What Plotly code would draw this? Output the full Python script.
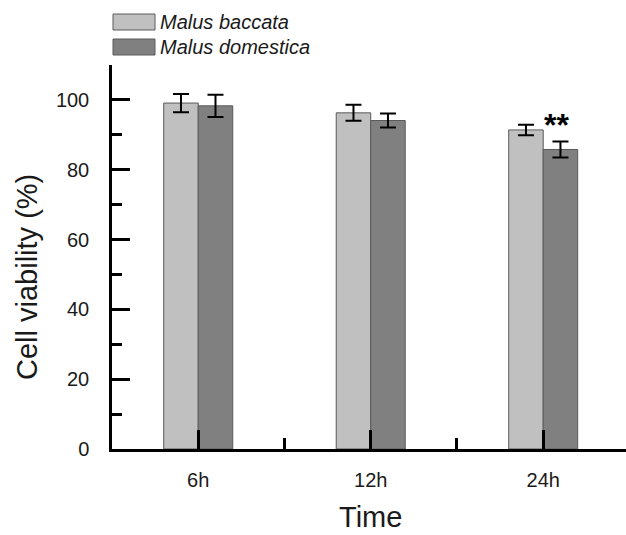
import plotly.graph_objects as go

categories = ["6h", "12h", "24h"]
series_names = ["Malus baccata", "Malus domestica"]
baccata = [99.1, 96.3, 91.4]
baccata_err = [2.6, 2.3, 1.5]
domestica = [98.3, 94.1, 85.8]
domestica_err = [3.2, 2.0, 2.3]
y_ticks = [0, 20, 40, 60, 80, 100]
y_minor = [10, 30, 50, 70, 90, 110]
x_minor = [0.5, 1.5]
sig_label = "**"

colors = ["#c0c0c0", "#808080"]
FONT = "Arial, Liberation Sans, sans-serif"

W, H = 626, 535
L, R, T, B = 112, 0, 65, 86
pw, ph = W - L - R, H - T - B

def px_x(x):
    return (x - L) / pw

def px_y(y):
    return (H - B - y) / ph

xs = list(range(len(categories)))
fig = go.Figure()
for name, vals, errs, col in [(series_names[0], baccata, baccata_err, colors[0]),
                              (series_names[1], domestica, domestica_err, colors[1])]:
    fig.add_trace(go.Bar(
        x=xs, y=vals, name=name,
        marker=dict(color=col, line=dict(color="#5a5a5a", width=1)),
        error_y=dict(type="data", array=errs, visible=True, color="black", thickness=2, width=8),
        showlegend=False,
    ))

fig.update_layout(
    width=W, height=H,
    margin=dict(l=L, r=R, t=T, b=B),
    paper_bgcolor="white", plot_bgcolor="white",
    barmode="group", bargap=0.6, bargroupgap=0,
    font=dict(family=FONT, color="#1a1a1a"),
)
fig.update_xaxes(
    range=[-0.5, 2.48], tickvals=xs, ticktext=categories,
    ticks="inside", ticklen=19, tickwidth=2.5, tickcolor="black",
    showline=True, linewidth=2.5, linecolor="black",
    showgrid=False, zeroline=False,
    tickfont=dict(size=20, family=FONT, color="#1a1a1a"),
    ticklabelstandoff=11,
    minor=dict(tickvals=x_minor, ticks="inside", ticklen=11, tickwidth=2.5, tickcolor="black", showgrid=False),
)
fig.update_yaxes(
    range=[0, 110], tickvals=y_ticks,
    ticks="inside", ticklen=18, tickwidth=2.5, tickcolor="black",
    showline=True, linewidth=2.5, linecolor="black",
    showgrid=False, zeroline=False,
    tickfont=dict(size=20, family=FONT, color="#1a1a1a"),
    ticklabelstandoff=16,
    minor=dict(tickvals=y_minor, ticks="inside", ticklen=10, tickwidth=2.5, tickcolor="black", showgrid=False),
)

# axis titles
fig.add_annotation(text="Time", xref="paper", yref="paper", x=px_x(370), y=px_y(535),
                   xanchor="center", yanchor="bottom", showarrow=False, yshift=0,
                   font=dict(size=29, family=FONT, color="#1a1a1a"))
fig.add_annotation(text="Cell viability (%)", xref="paper", yref="paper", x=px_x(27), y=px_y(277),
                   xanchor="center", yanchor="middle", textangle=-90, showarrow=False,
                   font=dict(size=29, family=FONT, color="#1a1a1a"))

# significance marker above domestica at 24h
fig.add_annotation(text="<b>" + sig_label + "</b>", x=xs[2] + 0.1, y=domestica[2] + domestica_err[2] + 0.5,
                   xref="x", yref="y", yanchor="bottom", showarrow=False, xshift=-4, yshift=-5,
                   font=dict(size=32, family=FONT, color="black"))

# legend (drawn manually)
legend_rows = [(14, 30), (39, 55)]
for (y0, y1), name, col in zip(legend_rows, series_names, colors):
    fig.add_shape(type="rect", xref="paper", yref="paper",
                  x0=px_x(113), x1=px_x(155), y0=px_y(y1), y1=px_y(y0),
                  fillcolor=col, line=dict(color="#5a5a5a", width=1))
    fig.add_annotation(text="<i>" + name + "</i>", xref="paper", yref="paper",
                       x=px_x(158), y=px_y((y0 + y1) / 2), xanchor="left", yanchor="middle",
                       showarrow=False, font=dict(size=20, family=FONT, color="#1a1a1a"))

fig.write_html("out.html", config={"displayModeBar": False},
               post_script="document.body.style.margin='0';")
